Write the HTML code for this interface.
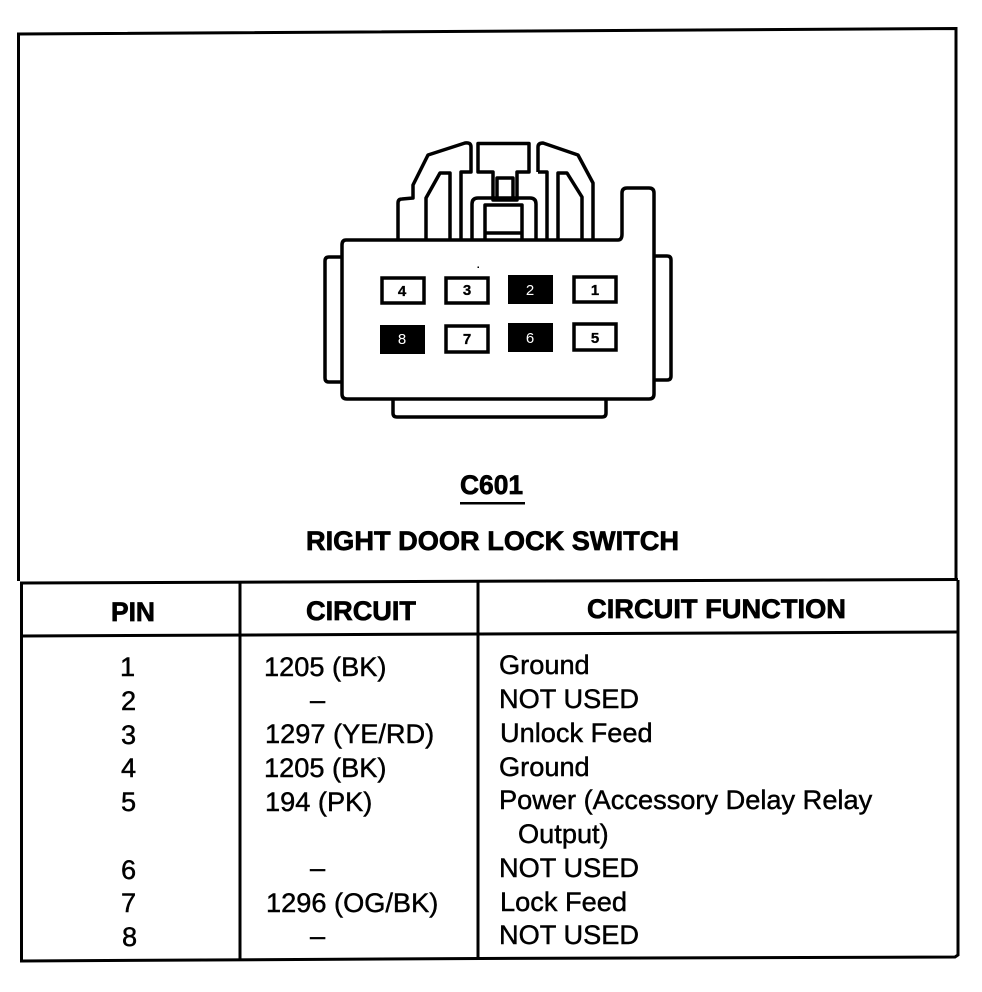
<!DOCTYPE html>
<html><head><meta charset="utf-8"><style>
html,body{margin:0;padding:0;background:#fff}
svg{display:block}
text{font-family:"Liberation Sans",sans-serif;fill:#000}
.h{font-weight:bold;font-size:27px;stroke:#000;stroke-width:.7px}
.b{font-size:27.2px;stroke:#000;stroke-width:.45px}
.p{font-size:15px;font-weight:bold;text-anchor:middle;stroke:#000;stroke-width:.3px}
.w{font-size:15px;text-anchor:middle;fill:#fff}
.l{fill:#fff;stroke:#000;stroke-width:3.500}
.n{fill:none;stroke:#000;stroke-width:3.500;stroke-linejoin:round}
</style></head><body>
<svg width="982" height="992" viewBox="0 0 982 992" xmlns="http://www.w3.org/2000/svg">
<rect width="982" height="992" fill="#fff"/>
<g fill="none" stroke="#000">
<path d="M18.500 581V34L956 28.500V579" stroke-width="3"/>
<path d="M20 583L958 579.500" stroke-width="3"/>
<path d="M21 636L480 634L958 632" stroke-width="3"/>
<path d="M21.500 583V961L480 958.500L955 957L958 955V580" stroke-width="3"/>
<path d="M240 583V960" stroke-width="3"/>
<path d="M478 582V959" stroke-width="3"/>
</g>
<!-- connector -->
<path class="l" d="M341 257H329Q325 257 325 261V378Q325 382 329 382H345V257Z"/>
<path class="l" d="M650 256H667Q671 256 671 260V376Q671 380 667 380H650Z"/>
<path class="l" d="M393 395V413Q393 417 397 417H602Q606 417 606 413V395Z"/>
<path class="n" d="M398 240V203Q398 199 402 199L413 198V185L428 155L465 143Q471 142 471 147V172H461V240"/>
<path class="n" d="M426 240V198L440 173H450V240"/>
<path class="n" d="M478 143.500H529V172H517V200H493V172H478Z"/>
<path class="n" d="M497 200V178H513V200" stroke-width="2.500"/>
<path class="n" d="M538 172V147Q538 143 543 143L578 155L593 183V240M538 172H547V240"/>
<path class="n" d="M558 240V173H567L582 197V240"/>
<path class="n" d="M472 240V204Q472 198 478 198H530Q536 198 536 204V240"/>
<path class="n" d="M485 240V205H522V240M485 233H522"/>
<path d="M346 240H618Q622 240 622 234V193Q622 188 627 188H649Q654 188 654 193V394Q654 399 649 399H347Q342 399 342 394V245Q342 240 346 240Z" class="l"/>
<rect x="477.500" y="266.500" width="1.500" height="1.500"/>
<!-- pins -->
<rect class="l" x="382" y="278" width="42" height="25"/>
<rect class="l" x="446" y="278" width="42" height="25"/>
<rect x="508" y="275" width="45" height="29"/>
<rect class="l" x="574" y="277" width="42" height="25"/>
<rect x="380" y="325" width="45" height="29"/>
<rect class="l" x="446" y="326" width="42" height="26"/>
<rect x="508" y="323" width="45" height="29"/>
<rect class="l" x="574" y="324" width="42" height="26"/>
<text class="p" x="402" y="296">4</text>
<text class="p" x="467" y="295">3</text>
<text class="w" x="530" y="295">2</text>
<text class="p" x="595" y="295">1</text>
<text class="w" x="402" y="344">8</text>
<text class="p" x="467" y="344">7</text>
<text class="w" x="530" y="343">6</text>
<text class="p" x="595" y="343">5</text>
<!-- titles -->
<text class="h" x="460" y="494" textLength="63" lengthAdjust="spacingAndGlyphs">C601</text>
<rect x="460" y="502" width="65" height="2.500"/>
<text class="h" x="306" y="550" textLength="373" lengthAdjust="spacingAndGlyphs">RIGHT DOOR LOCK SWITCH</text>
<text class="h" x="111" y="621" textLength="44" lengthAdjust="spacingAndGlyphs">PIN</text>
<text class="h" x="306" y="620" textLength="110" lengthAdjust="spacingAndGlyphs">CIRCUIT</text>
<text class="h" x="587" y="618" textLength="259" lengthAdjust="spacingAndGlyphs">CIRCUIT FUNCTION</text>
<!-- pin col -->
<text class="b" x="120" y="676">1</text>
<text class="b" x="121" y="710">2</text>
<text class="b" x="121" y="744">3</text>
<text class="b" x="121" y="777">4</text>
<text class="b" x="121" y="811">5</text>
<text class="b" x="121" y="879">6</text>
<text class="b" x="121" y="912">7</text>
<text class="b" x="122" y="946">8</text>
<!-- circuit col -->
<text class="b" x="264" y="676">1205 (BK)</text>
<text class="b" x="310" y="709">–</text>
<text class="b" x="265" y="743">1297 (YE/RD)</text>
<text class="b" x="264" y="777">1205 (BK)</text>
<text class="b" x="265" y="811">194 (PK)</text>
<text class="b" x="310" y="877">–</text>
<text class="b" x="266" y="912">1296 (OG/BK)</text>
<text class="b" x="310" y="945">–</text>
<!-- function col -->
<text class="b" x="499" y="674">Ground</text>
<text class="b" x="499" y="708">NOT USED</text>
<text class="b" x="500" y="742">Unlock Feed</text>
<text class="b" x="499" y="776">Ground</text>
<text class="b" x="499" y="809">Power (Accessory Delay Relay</text>
<text class="b" x="518" y="843">Output)</text>
<text class="b" x="499" y="877">NOT USED</text>
<text class="b" x="500" y="911">Lock Feed</text>
<text class="b" x="499" y="944">NOT USED</text>
</svg>
</body></html>
